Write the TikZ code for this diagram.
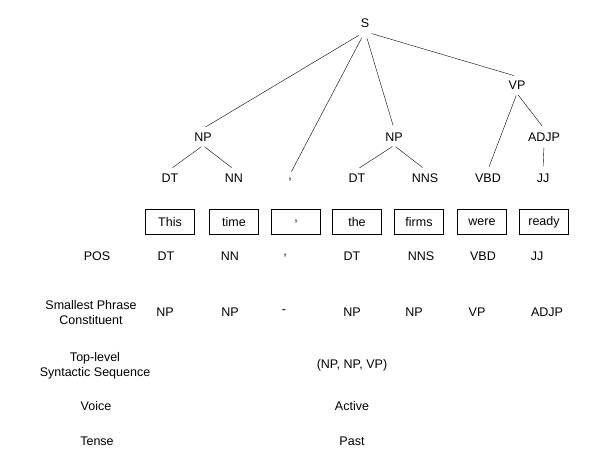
\documentclass[tikz,border=0pt]{standalone}
\usepackage{fontspec}
\setmainfont{Liberation Sans}
\usetikzlibrary{positioning}
\begin{document}
\begin{tikzpicture}[x=1pt,y=-1pt,
  lbl/.style={font=\fontsize{12.5}{15}\selectfont, inner sep=4pt},
  word/.style={lbl, draw, thick, minimum width=49pt, minimum height=25pt, inner sep=0pt},
  branch/.style={thin, shorten <=7pt, shorten >=3pt},
  rowlabel/.style={lbl, align=center}]
  \useasboundingbox (0,0) rectangle (606,476);

  %--------------------------------------------
  % Parse tree
  %--------------------------------------------
  \node[lbl] (S) at (365,23) {S};
  \node[lbl] (NPa) at (203,137) {NP};
  \node[lbl] (NPb) at (394,137) {NP};
  \node[lbl] (VP) at (517,85) {VP};
  \node[lbl] (ADJP) at (544,137) {ADJP};
  \node[lbl] (DTa) at (170,178) {DT};
  \node[lbl] (NN) at (234,178) {NN};
  \node[lbl] (cm) at (290,180) {,};
  \node[lbl] (DTb) at (357,178) {DT};
  \node[lbl] (NNS) at (425,178) {NNS};
  \node[lbl] (VBD) at (488,178) {VBD};
  \node[lbl] (JJ) at (543,178) {JJ};

  \draw[branch] (S.south) -- (NPa.north);
  \draw[branch] (S.south) -- (cm.north);
  \draw[branch] (S.south) -- (NPb.north);
  \draw[branch] (S.south) -- (VP.north);
  \draw[branch, shorten <=2pt] (NPa.south) -- (DTa.north);
  \draw[branch, shorten <=2pt] (NPa.south) -- (NN.north);
  \draw[branch, shorten <=2pt] (NPb.south) -- (DTb.north);
  \draw[branch, shorten <=2pt] (NPb.south) -- (NNS.north);
  \draw[branch, shorten <=2pt] (VP.south) -- (VBD.north);
  \draw[branch, shorten <=2pt] (VP.south) -- (ADJP.north);
  \draw[branch, shorten <=2pt] (ADJP.south) -- (JJ.north);

  %--------------------------------------------
  % Words
  %--------------------------------------------
  \foreach \w/\x/\n in {This/170/w1, time/234/w2, {,}/296/w3, the/357/w4,
                        firms/419/w5, were/482/w6, ready/544/w7}{
    \node[word] (\n) at (\x,222) {\w};
  }

  %--------------------------------------------
  % Feature rows
  %--------------------------------------------
  \node[rowlabel] (pos) at (97,256) {POS};
  \foreach \t/\x in {DT/166, NN/230, {,}/285, DT/352, NNS/421, VBD/483, JJ/537}{
    \node[lbl] at (\x,256) {\t};
  }
  \node[rowlabel] (spc) at (91,313) {Smallest Phrase\\Constituent};
  \foreach \t/\x in {NP/165, NP/230, -/284, NP/352, NP/414, VP/477, ADJP/547}{
    \node[lbl] at (\x,312) {\t};
  }
  \node[rowlabel] (tss) at (95,366) {Top-level\\Syntactic Sequence};
  \node[lbl] (tssv) at (352,365) {(NP, NP, VP)};
  \node[rowlabel] (voice) at (96,406) {Voice};
  \node[lbl] (voicev) at (352,406) {Active};
  \node[rowlabel] (tense) at (97,441) {Tense};
  \node[lbl] (tensev) at (352,441) {Past};
\end{tikzpicture}
\end{document}
